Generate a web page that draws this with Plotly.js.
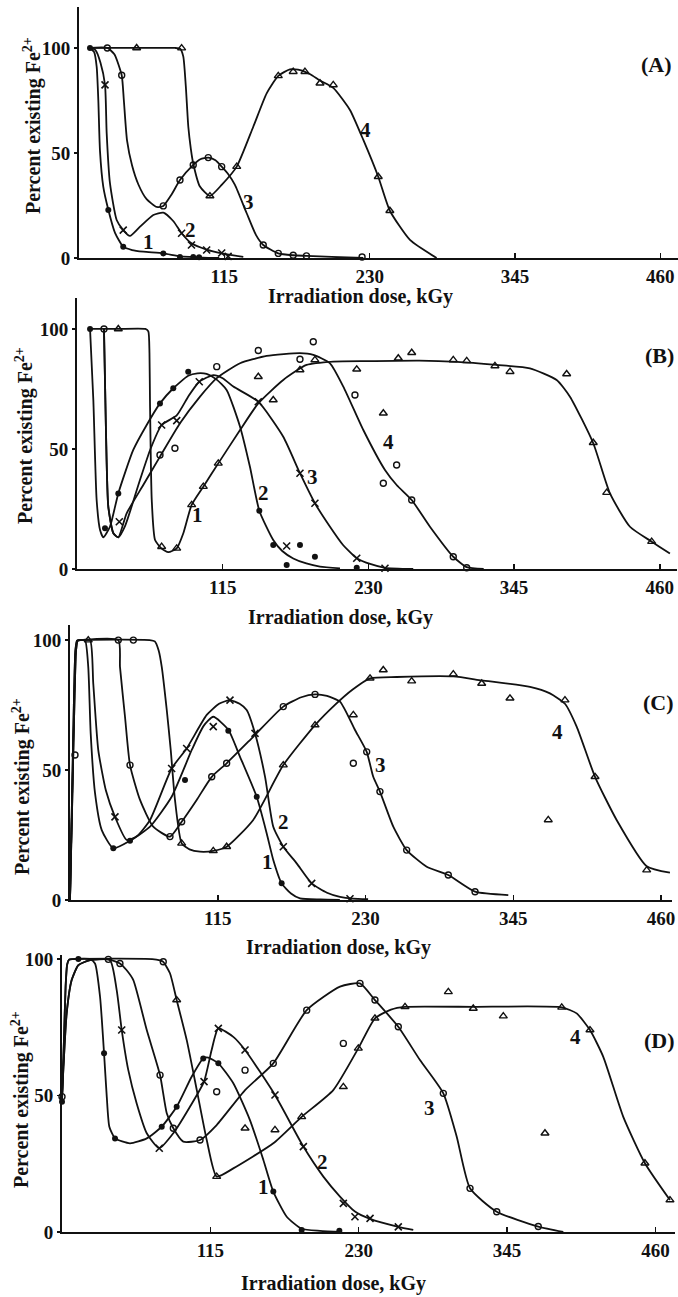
<!DOCTYPE html>
<html>
<head>
<meta charset="utf-8">
<script src="https://cdn.plot.ly/plotly-3.0.1.min.js"></script>
<style>html,body{margin:0;padding:0;background:#fff;}#chart{width:678px;height:1297px;}</style>
</head>
<body>
<div id="chart"></div>
<script>
// ---------- shared tick labels ----------
const xTickVals = [115, 230, 345, 460];
const xTickText = ['115', '230', '345', '460'];
const yTickVals = [0, 50, 100];
const yTickText = ['0', '50', '100'];
const xTitle = 'Irradiation dose, kGy';
const yTitle = 'Percent existing Fe<sup>2+</sup>';
const panelNames = ['(A)', '(B)', '(C)', '(D)'];
const curveNames = ['1', '2', '3', '4'];

// ---------- Panel A ----------
const A1_lineX = [8.7, 12, 14, 15.3, 16.6, 19.2, 23.2, 28.5, 35, 42, 51, 66.7, 80, 90, 98, 111];
const A1_lineY = [100, 98, 91, 75, 51, 34, 23, 12, 5.4, 3.8, 3, 2.2, 0.8, 0.5, 0.2, 0];
const A1_ptX = [8.7, 23.2, 35, 66.7, 79.9, 90.4, 95];
const A1_ptY = [100, 22.9, 5.4, 2.2, 0.5, 0.5, 0.3];

const A2_lineX = [8.7, 13, 17, 20.6, 21.9, 24.5, 29.8, 35, 40.3, 48.3, 58.8, 66.7, 74.7, 81.2, 89, 101, 113, 130];
const A2_lineY = [100, 99, 93, 82.4, 59.4, 35.6, 18.1, 13.3, 10.5, 14.9, 20.5, 21.6, 17.5, 11.8, 7, 4, 2.2, 0.5];
const A2_ptX = [20.6, 35, 81.2, 89, 101, 112.9, 118];
const A2_ptY = [82.4, 13.3, 11.8, 6.2, 3.8, 2.4, 0.8];

const A3_lineX = [8.7, 22.4, 28, 33.8, 35.5, 38, 42, 47, 53.5, 61.5, 66.7, 73, 79.9, 90.4, 96, 102.3, 108, 112.9, 118, 123.4, 132.7, 140, 145.8, 157.7, 169.5, 180, 200, 225];
const A3_lineY = [100, 100, 97, 87, 75, 56, 44, 35, 28, 24.3, 24.8, 30, 37.1, 44.3, 47, 47.8, 46.5, 43.5, 40, 34.8, 21.3, 11, 6.2, 2.2, 1.3, 1, 0.5, 0];
const A3_ptX = [22.4, 33.8, 66.7, 79.9, 90.4, 102.3, 112.9, 145.8, 157.7, 169.5, 180, 224];
const A3_ptY = [100, 87, 24.8, 37.1, 44.3, 47.8, 43.5, 6.2, 2.2, 1.3, 1, 0.5];

const A4_lineX = [8.7, 45.6, 76, 80, 82.5, 84.5, 86.5, 88.5, 90.4, 95.7, 103.6, 112.9, 124.8, 137.9, 148.5, 157.7, 166.9, 175, 183, 190.7, 201.2, 214.4, 225, 236.8, 246, 261.9, 283];
const A4_lineY = [100, 100, 100, 99.6, 96, 82, 62.5, 52, 45, 34, 29.5, 34.8, 43.5, 62.5, 78.4, 86.7, 89.8, 89.5, 87.5, 84.5, 81, 70.5, 56.2, 38.7, 22.5, 8.6, 0];
const A4_ptX = [45.6, 81.2, 103.6, 124.8, 157.7, 169.5, 178.8, 190.7, 201.2, 236.8, 246];
const A4_ptY = [100, 99.9, 29.5, 43.5, 86.7, 88.7, 88.7, 83.2, 82.4, 38.7, 22.5];

// ---------- Panel B ----------
const B1_lineX = [10.3, 32.6, 54, 56.3, 57.2, 57.6, 59, 61.6, 66.8, 72.1, 78.7, 84, 90.5, 99.7, 111.5, 128.7, 143.1, 162.8, 181.2, 202.3, 230, 270, 300, 331.2, 357.5, 378.6, 389.1, 407.5, 420.7, 436.5, 453.6, 468];
const B1_lineY = [100, 100, 100, 99, 90, 70.4, 28.75, 12.1, 8.5, 7, 8.6, 15, 26.7, 34.3, 44, 57.9, 69, 78.75, 85, 86.4, 86.6, 86.8, 86.3, 85, 83.6, 78.75, 71.8, 52.4, 31.5, 17.6, 11.4, 6.5];
const B1_ptX = [32.6, 66.8, 78.7, 90.5, 99.7, 111.5, 143.1, 154.9, 176, 187.8, 220.8, 241.8, 253.6, 264.2, 297, 307.6, 329.9, 341.8, 386.5, 407.5, 418.1, 453.6];
const B1_ptY = [100, 9.3, 8.6, 26.7, 34.3, 44, 80.1, 70.4, 82.9, 87.1, 83.2, 64.9, 87.8, 90.1, 87.1, 86.7, 84.6, 82.2, 81.25, 52.6, 31.8, 11.4];

const B2_lineX = [10.3, 12.9, 15.5, 18.2, 20.8, 26, 32.6, 44.4, 55, 65.5, 76, 87.8, 95, 102.3, 110, 118.1, 128.7, 136.5, 143.9, 154.9, 162, 170.7, 181, 191.8, 207.6];
const B2_lineY = [100, 70.4, 28.75, 16.25, 13.2, 17.6, 31.5, 49.6, 60, 69, 75.3, 80.5, 81.5, 81.25, 79, 74.6, 59.3, 42.6, 24.3, 12.1, 7.5, 4.4, 2.3, 1, 0.3];
const B2_ptX = [10.3, 22.1, 32.6, 65.5, 76, 87.8, 143.9, 154.9, 165.5, 176, 187.8, 220.8];
const B2_ptY = [100, 17, 31.5, 69, 75.3, 82.2, 24.3, 10, 1.7, 10, 5.1, 0.5];

const B3_lineX = [21.3, 22.9, 24.7, 28.7, 32.6, 38, 49.7, 58, 66.8, 78.7, 88, 96.5, 107.6, 115, 123.4, 143.1, 162.8, 176, 187.8, 199.7, 210, 220.8, 232, 243.1, 265.4];
const B3_lineY = [100, 56.5, 26, 14.9, 13.2, 18, 37.1, 50, 60, 64, 72, 78, 80.8, 79.5, 76, 69.7, 55.1, 39.9, 27.4, 17.6, 10, 4.5, 2, 0.5, 0];
const B3_ptX = [33.4, 66.8, 78.7, 96.5, 143.1, 176, 187.8, 220.8, 243.1, 165.5];
const B3_ptY = [19.7, 60, 61.8, 78, 69.7, 39.9, 27.4, 4.5, 0.3, 9.6];

const B4_lineX = [21.3, 22.9, 24.7, 28.7, 32.6, 39.2, 52.3, 65.5, 81.3, 97.1, 110.3, 128.7, 149.7, 176, 186.5, 199.7, 210.2, 226, 243.1, 252.3, 264.2, 278.6, 297, 307.6, 321];
const B4_lineY = [100, 56.5, 26, 14.9, 13.2, 23.2, 35, 46.8, 60.7, 71.8, 79.5, 85.7, 88.75, 89.9, 89.2, 85.7, 76, 57.9, 41.25, 35, 28.75, 17.6, 5.1, 0.8, 0];
const B4_ptX = [21.3, 65.5, 77.3, 110.3, 143.1, 176, 186.5, 219.4, 241.8, 252.3, 264.2, 297, 307.6];
const B4_ptY = [100, 47.5, 50.3, 84.3, 91, 87.4, 94.7, 72.5, 35.7, 43.3, 28.75, 5.1, 0.5];

// ---------- Panel C ----------
const C1_lineX = [0, 1.5, 3, 4.2, 5.5, 8, 11.7, 14.2, 16.1, 19.5, 24.7, 33.7, 46.7, 62.3, 79.1, 95, 104, 111.5, 123.2, 132.3, 145.3, 153.1, 158.2, 164.7, 172, 179, 195, 210];
const C1_lineY = [0, 37, 75, 96, 99.8, 100, 100, 89.7, 64.1, 41, 26.9, 19.9, 22.8, 28.2, 39.7, 58, 67, 70.5, 65.5, 55.1, 39.7, 25.6, 15.4, 6.4, 2.5, 0.6, 0.2, 0];
const C1_ptX = [33.7, 46.7, 89.5, 123.2, 145.3, 164.7];
const C1_ptY = [19.9, 22.8, 46.2, 65.1, 39.7, 6.4];

const C2_lineX = [0, 1.7, 3.4, 4.7, 6, 9, 15.6, 18.1, 22, 28, 35, 44.1, 52, 62.3, 79.1, 90.8, 106.4, 116, 124.5, 132, 137.5, 144, 151.8, 158.2, 166, 176.4, 188.1, 200, 210.1, 220, 232];
const C2_lineY = [0, 37, 75, 96, 99.8, 100, 100, 83.3, 57.7, 42, 32, 23.1, 24.5, 30.8, 50.6, 58.3, 71.2, 75.5, 76.9, 75.5, 73.1, 64.1, 47.4, 28.2, 20.5, 14.1, 6.4, 2.8, 1.2, 0.5, 0.3];
const C2_ptX = [35, 79.1, 90.8, 111.5, 124.5, 144, 166, 188.1, 217.9];
const C2_ptY = [32, 50.6, 58.3, 66.7, 76.9, 64.1, 20.5, 6.4, 0.5];

const C3_lineX = [0, 1.7, 3.4, 4.7, 6, 9, 37.6, 38.9, 42.8, 46.7, 54.5, 64.8, 77.8, 86.9, 98.6, 110.3, 121.9, 142.6, 166, 180, 190.7, 200, 210.1, 221.8, 230.9, 236, 241.2, 251.6, 262, 277.6, 294.4, 315.2, 341.1];
const C3_lineY = [0, 37, 75, 96, 99.8, 100, 100, 89.7, 70.5, 51.9, 38.5, 28.2, 24.4, 30.1, 38.5, 47.4, 52.6, 62.8, 74.4, 78, 79.1, 78.5, 76.3, 65.4, 57, 47.4, 41.7, 28.2, 19.2, 12.8, 9.6, 3.2, 1.9];
const C3_ptX = [3.9, 37.6, 49.3, 46.7, 77.8, 86.9, 110.3, 121.9, 166, 190.7, 220.5, 230.9, 241.2, 262, 294.4, 315.2];
const C3_ptY = [55.8, 100, 100, 51.9, 24.4, 30.1, 47.4, 52.6, 74.4, 79.1, 52.6, 57, 41.7, 19.2, 9.6, 3.2];

const C4_lineX = [0, 1.5, 3, 4.2, 5.5, 8, 62, 66, 69, 71.4, 75.3, 78.4, 81.7, 86.9, 93, 101.2, 111.5, 121.9, 142.6, 166, 190.7, 206, 220, 233.5, 254.2, 298.3, 320.4, 358, 373.5, 385.2, 394.3, 408.6, 425.4, 448.8, 466.9];
const C4_lineY = [0, 37, 75, 96, 99.8, 100, 100, 99.5, 96, 89.7, 73.1, 57.7, 38.5, 21.8, 19.5, 18.6, 18.9, 20.5, 30.8, 51.9, 67.3, 75, 81, 85.3, 85.8, 86, 84.5, 82, 79.5, 75.5, 66.7, 47.4, 30.8, 13, 10.5];
const C4_ptX = [14.2, 86.9, 111.5, 121.9, 166, 190.7, 220.5, 233.5, 243.8, 265.9, 298.3, 320.4, 342.4, 385.2, 408.6, 448.8, 372.2];
const C4_ptY = [100, 21.8, 18.9, 20.5, 51.9, 67.3, 71.2, 85.3, 88.5, 84.2, 86.9, 83.3, 77.6, 76.9, 47.4, 11.5, 30.8];

// ---------- Panel D ----------
const D1_lineX = [0, 1.5, 2.8, 4, 5.5, 8, 21.7, 25.6, 29.5, 32.6, 34.7, 36.7, 41.1, 52.7, 65.7, 77.3, 88.9, 100.5, 109.5, 113.4, 121.2, 132.8, 145.7, 156.1, 163.8, 174.2, 185.8, 200, 217];
const D1_lineY = [47.7, 70, 90, 98, 99.8, 100, 100, 98.4, 86.2, 65.5, 49.6, 38.6, 34.3, 32.5, 34.3, 38.6, 45.9, 56.9, 63.6, 63.9, 61.8, 54.5, 41, 26.4, 14.8, 5.6, 1.2, 0.4, 0];
const D1_ptX = [0, 12.7, 32.6, 41.1, 77.3, 88.9, 109.5, 121.2, 163.8, 185.8, 215];
const D1_ptY = [47.7, 100, 65.5, 34.3, 38.6, 45.9, 63.6, 61.8, 14.8, 0.7, 0.5];

const D2_lineX = [0, 3.6, 7.5, 12.7, 21.7, 37.2, 42.4, 46.3, 51.4, 57.9, 65.7, 75.4, 86.3, 99.2, 110.1, 116, 121.2, 132.8, 141.9, 165.1, 187.1, 202.6, 215.5, 227.1, 238.8, 260.7, 272.3];
const D2_lineY = [49.6, 80, 92.3, 97.8, 99.6, 99.6, 88.6, 74, 59.3, 47.1, 36.2, 30.7, 36.2, 45.9, 55.1, 66.7, 74.6, 71.5, 66.7, 50.2, 31.3, 20.3, 13, 7.5, 4.8, 1.9, 0.8];
const D2_ptX = [46.3, 75.4, 110.1, 121.2, 141.9, 165.1, 187.1, 218.1, 227.1, 238.8, 260.7];
const D2_ptY = [74, 30.7, 55.1, 74.6, 66.7, 50.2, 31.3, 10.5, 5.6, 5, 1.9];

const D3_lineX = [0, 3.6, 7.5, 12.7, 21.7, 35.9, 44.9, 50, 55.3, 65.7, 76, 81.2, 86.3, 94, 107, 119.9, 141.9, 163.8, 189.7, 215.5, 231, 242.6, 260.7, 277.5, 295.6, 306, 316.3, 337, 369.2, 388.6];
const D3_lineY = [49.6, 80, 92.3, 97.8, 99.6, 99.9, 98.4, 96, 92.3, 74, 57.5, 43.5, 38, 33.1, 33.7, 39.2, 52, 61.8, 81.3, 89.9, 91.1, 85, 75.2, 63, 50.8, 34.9, 16, 7.4, 2, 0];
const D3_ptX = [0, 35.9, 44.9, 78.5, 76, 86.3, 107, 119.9, 141.9, 163.8, 189.7, 231, 242.6, 260.7, 295.6, 316.3, 337, 369.2, 218.1];
const D3_ptY = [49.6, 99.9, 98.4, 99, 57.5, 38, 33.7, 51.4, 59.3, 61.8, 81.3, 91.1, 85, 75.2, 50.8, 16, 7.4, 2, 69.1];

const D4_lineX = [0, 1.5, 2.8, 4, 5.5, 8, 70, 76, 78.5, 83.7, 88.9, 96.7, 104.5, 112.2, 119.9, 132.8, 163.8, 185.8, 210.3, 229.7, 242.6, 255, 265.9, 318.8, 387.4, 399, 409.3, 419.6, 435.1, 451.9, 471.3];
const D4_lineY = [47.7, 70, 90, 98, 99.8, 100, 100, 99.5, 99, 94.8, 85, 70.3, 52, 33.7, 20.3, 23.3, 32.5, 42.2, 52, 67.3, 78.3, 81.5, 82.5, 82.5, 82.3, 80.1, 74, 64.2, 42.2, 25.2, 11.7];
const D4_ptX = [88.9, 119.9, 141.9, 165.1, 185.8, 218.1, 229.7, 242.6, 265.9, 299.5, 318.8, 342.1, 374.4, 387.4, 409.3, 451.9, 471.3];
const D4_ptY = [85, 20.3, 38, 37.4, 42.2, 53.2, 67.3, 78.3, 82.5, 88, 81.9, 79.1, 36.2, 82.3, 74, 25.2, 11.7];

// ---------- drawing ----------
const W = 678, H = 1297;
const INK = '#111';
const FONT = 'Liberation Serif, Times New Roman, serif';
const px = v => v / W;
const py = v => 1 - v / H;

const symbols = {
  dot: {symbol: 'circle', size: 6, color: INK, line: {width: 0}},
  x: {symbol: 'x-thin-open', size: 7, color: INK, line: {width: 1.6, color: INK}},
  circle: {symbol: 'circle-open', size: 6, color: INK, line: {width: 1.4, color: INK}},
  tri: {symbol: 'triangle-up-open', size: 7, color: INK, line: {width: 1.4, color: INK}}
};

const traces = [];
function addCurve(lx, ly, ptx, pty, axIdx, sym) {
  const xa = axIdx === 1 ? 'x' : 'x' + axIdx;
  const ya = axIdx === 1 ? 'y' : 'y' + axIdx;
  traces.push({x: lx, y: ly, xaxis: xa, yaxis: ya, mode: 'lines', type: 'scatter',
    line: {shape: 'spline', smoothing: 0.55, color: INK, width: 1.8},
    hoverinfo: 'skip', showlegend: false, cliponaxis: false});
  traces.push({x: ptx, y: pty, xaxis: xa, yaxis: ya, mode: 'markers', type: 'scatter',
    marker: symbols[sym], hoverinfo: 'skip', showlegend: false, cliponaxis: false});
}

addCurve(A1_lineX, A1_lineY, A1_ptX, A1_ptY, 1, 'dot');
addCurve(A2_lineX, A2_lineY, A2_ptX, A2_ptY, 1, 'x');
addCurve(A3_lineX, A3_lineY, A3_ptX, A3_ptY, 1, 'circle');
addCurve(A4_lineX, A4_lineY, A4_ptX, A4_ptY, 1, 'tri');

addCurve(B1_lineX, B1_lineY, B1_ptX, B1_ptY, 2, 'tri');
addCurve(B2_lineX, B2_lineY, B2_ptX, B2_ptY, 2, 'dot');
addCurve(B3_lineX, B3_lineY, B3_ptX, B3_ptY, 2, 'x');
addCurve(B4_lineX, B4_lineY, B4_ptX, B4_ptY, 2, 'circle');

addCurve(C1_lineX, C1_lineY, C1_ptX, C1_ptY, 3, 'dot');
addCurve(C2_lineX, C2_lineY, C2_ptX, C2_ptY, 3, 'x');
addCurve(C3_lineX, C3_lineY, C3_ptX, C3_ptY, 3, 'circle');
addCurve(C4_lineX, C4_lineY, C4_ptX, C4_ptY, 3, 'tri');

addCurve(D1_lineX, D1_lineY, D1_ptX, D1_ptY, 4, 'dot');
addCurve(D2_lineX, D2_lineY, D2_ptX, D2_ptY, 4, 'x');
addCurve(D3_lineX, D3_lineY, D3_ptX, D3_ptY, 4, 'circle');
addCurve(D4_lineX, D4_lineY, D4_ptX, D4_ptY, 4, 'tri');

// panel geometry in pixels
const panels = [
  {l: 79, r: 678, b: 258, t: 7, xmax: 474, ymax: 119.5},
  {l: 77, r: 677, b: 569, t: 298, xmax: 473.6, ymax: 112.9},
  {l: 70, r: 672, b: 900, t: 625, xmax: 468.5, ymax: 105.8},
  {l: 62, r: 675, b: 1232, t: 955, xmax: 475.2, ymax: 101.5}
];

const tickFont = {family: FONT, size: 19, color: INK, weight: 'bold'};
const layout = {
  width: W, height: H,
  margin: {l: 0, r: 0, t: 0, b: 0},
  paper_bgcolor: '#fff', plot_bgcolor: 'rgba(0,0,0,0)',
  showlegend: false,
  annotations: []
};

panels.forEach((p, i) => {
  const k = i === 0 ? '' : String(i + 1);
  layout['xaxis' + k] = {
    domain: [px(p.l), px(p.r)], range: [0, p.xmax], anchor: 'y' + k,
    showline: true, linecolor: INK, linewidth: 2, showgrid: false, zeroline: false,
    tickmode: 'array', tickvals: xTickVals, ticktext: xTickText,
    ticks: 'inside', ticklen: 5, tickwidth: 1.5, tickcolor: INK,
    tickfont: tickFont, fixedrange: true
  };
  layout['yaxis' + k] = {
    domain: [py(p.b), py(p.t)], range: [0, p.ymax], anchor: 'x' + k,
    showline: true, linecolor: INK, linewidth: 2, showgrid: false, zeroline: false,
    tickmode: 'array', tickvals: yTickVals, ticktext: yTickText,
    ticks: 'outside', ticklen: 3, tickwidth: 1.5, tickcolor: INK,
    tickfont: tickFont, fixedrange: true
  };
});

const titleFont = {family: FONT, size: 20, color: INK, weight: 'bold'};
const bigFont = {family: FONT, size: 22, color: INK, weight: 'bold'};
const numFont = {family: FONT, size: 21, color: INK, weight: 'bold'};

// x-axis titles (pixel centres)
[[360, 297], [340, 617], [338, 947], [333, 1283]].forEach(([x, y]) => {
  layout.annotations.push({text: xTitle, x: px(x), y: py(y), xref: 'paper', yref: 'paper',
    xanchor: 'center', yanchor: 'middle', showarrow: false, font: titleFont});
});
// y-axis titles
[[32, 126], [25, 436], [22, 787], [20, 1100]].forEach(([x, y]) => {
  layout.annotations.push({text: yTitle, x: px(x), y: py(y), xref: 'paper', yref: 'paper',
    xanchor: 'center', yanchor: 'middle', textangle: -90, showarrow: false, font: titleFont});
});
// panel letters
[[674, 65], [676, 355], [676, 702], [677, 1040]].forEach(([x, y], i) => {
  layout.annotations.push({text: panelNames[i], x: px(x), y: py(y), xref: 'paper', yref: 'paper',
    xanchor: 'right', yanchor: 'middle', showarrow: false, font: bigFont});
});
// curve numbers
const curveLabelPos = [
  [[148, 242], [190, 230], [248, 202], [365, 130]],
  [[197, 515], [263, 493], [312, 477], [388, 442]],
  [[267, 862], [283, 822], [380, 765], [557, 732]],
  [[263, 1187], [322, 1162], [430, 1108], [575, 1037]]
];
curveLabelPos.forEach(list => list.forEach(([x, y], j) => {
  layout.annotations.push({text: curveNames[j], x: px(x), y: py(y), xref: 'paper', yref: 'paper',
    xanchor: 'center', yanchor: 'middle', showarrow: false, font: numFont});
}));

Plotly.newPlot('chart', traces, layout, {staticPlot: true, displayModeBar: false});
</script>
</body>
</html>
